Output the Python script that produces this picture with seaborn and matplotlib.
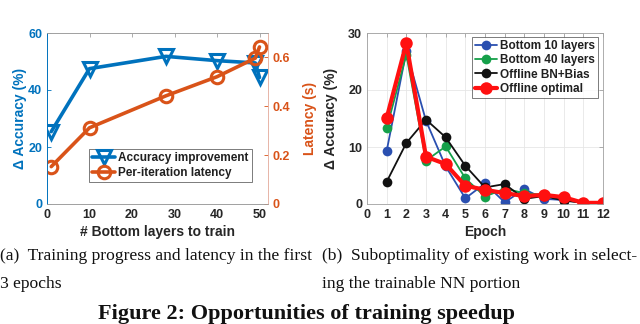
import matplotlib
matplotlib.use("Agg")
import matplotlib.pyplot as plt
import seaborn as sns
import pandas as pd

# ---- data (left panel) ----
layers = [1, 10, 28, 40, 49, 50]
acc_improve = [25.4, 47.5, 51.8, 50.3, 49.5, 44.4]
latency = [0.153, 0.312, 0.443, 0.521, 0.597, 0.643]

# ---- data (right panel) ----
epochs = [1, 2, 3, 4, 5, 6, 7, 8, 9, 10, 11, 12]
bottom10 = [9.3, 26.8, 14.6, 6.6, 1.0, 3.6, 0.3, 2.6, 0.9, 0.7, 0.2, 0.2]
bottom40 = [13.3, 26.2, 7.6, 10.1, 4.5, 1.3, 2.7, 1.9, 1.6, 0.9, 0.2, 0.2]
offline_bn = [3.9, 10.7, 14.8, 11.7, 6.7, 2.9, 3.5, 0.9, 1.4, 0.6, 0.2, 0.2]
offline_opt = [15.1, 28.2, 8.3, 7.0, 3.2, 2.5, 1.9, 1.4, 1.6, 1.2, 0.2, 0.2]

sns.set_style("white")
plt.rcParams['font.family'] = ['Liberation Sans', 'DejaVu Sans']
plt.rcParams['xtick.direction'] = 'in'
plt.rcParams['ytick.direction'] = 'in'

BLUE = '#0072BD'
ORANGE = '#D95319'
AXC = '#262626'

fig = plt.figure(figsize=(6.4, 3.24), dpi=100)
W, H = 640, 324

def axrect(x0, y0, x1, y1):
    return [x0 / W, 1 - y1 / H, (x1 - x0) / W, (y1 - y0) / H]

# ================= Left panel =================
ax1 = fig.add_axes(axrect(47, 33, 268, 204))
ax2 = ax1.twinx()
sns.lineplot(x=layers, y=acc_improve, ax=ax1, color=BLUE, lw=2.6, marker='v',
             markersize=10, markerfacecolor='none', markeredgecolor=BLUE,
             markeredgewidth=2.2, label='Accuracy improvement', legend=False)
sns.lineplot(x=layers, y=latency, ax=ax2, color=ORANGE, lw=2.6, marker='o',
             markersize=9, markerfacecolor='none', markeredgecolor=ORANGE,
             markeredgewidth=2.2, label='Per-iteration latency', legend=False)
ax1.set_xlim(0, 52)
ax1.set_ylim(0, 60)
ax2.set_ylim(0, 0.7)
ax1.set_xticks([0, 10, 20, 30, 40, 50])
ax1.set_yticks([0, 20, 40, 60])
ax2.set_yticks([0, 0.2, 0.4, 0.6])
ax2.set_yticklabels(['0', '0.2', '0.4', '0.6'])
for a in (ax1, ax2):
    for s in a.spines.values():
        s.set_linewidth(0.6)
        s.set_color('#a0a0a0')
ax2.spines['left'].set_color(BLUE)
ax2.spines['right'].set_color('#f2b8a8')
ax1.spines['left'].set_color(BLUE)
ax1.tick_params(axis='y', colors=BLUE, labelsize=9, length=3, width=0.6)
ax1.tick_params(axis='x', colors='#a0a0a0', labelcolor=AXC, labelsize=9, length=3,
                width=0.6, top=True)
ax2.tick_params(axis='y', colors=ORANGE, labelsize=9, length=3, width=0.6)
for lab in ax1.get_xticklabels() + ax1.get_yticklabels() + ax2.get_yticklabels():
    lab.set_fontweight('bold')
ax1.set_xlabel('# Bottom layers to train', fontsize=10, fontweight='bold', color=AXC, labelpad=3)
ax1.set_ylabel('Δ Accuracy (%)', fontsize=10, fontweight='bold', color=BLUE, labelpad=1)
ax2.set_ylabel('Latency (s)', fontsize=10, fontweight='bold', color=ORANGE, labelpad=9)
h1, l1 = ax1.get_legend_handles_labels()
h2, l2 = ax2.get_legend_handles_labels()
leg = ax2.legend(h1 + h2, l1 + l2, loc='center', bbox_to_anchor=(0.559, 0.225),
                 fontsize=8.5, frameon=True, fancybox=False, handlelength=1.9,
                 borderpad=0.25, labelspacing=0.2, handletextpad=0.3, borderaxespad=0)
leg.get_frame().set_edgecolor('#404040')
leg.get_frame().set_linewidth(0.6)
for t in leg.get_texts():
    t.set_fontweight('bold')
    t.set_color('#202020')

# ================= Right panel =================
ax3 = fig.add_axes(axrect(367, 33, 603, 204))
df = pd.DataFrame({
    'Epoch': epochs * 4,
    'val': bottom10 + bottom40 + offline_bn + offline_opt,
    'series': (['Bottom 10 layers'] * 12 + ['Bottom 40 layers'] * 12 +
               ['Offline BN+Bias'] * 12 + ['Offline optimal'] * 12),
})
styles = {
    'Bottom 10 layers': dict(color='#2a4fb0', lw=1.3, ms=7),
    'Bottom 40 layers': dict(color='#15a04a', lw=1.3, ms=7),
    'Offline BN+Bias': dict(color='#111111', lw=1.3, ms=7),
    'Offline optimal': dict(color='#ff1010', lw=3.0, ms=9),
}
for name, st in styles.items():
    sub = df[df['series'] == name]
    sns.lineplot(data=sub, x='Epoch', y='val', ax=ax3, color=st['color'], lw=st['lw'],
                 marker='o', markersize=st['ms'], markeredgewidth=0,
                 markerfacecolor=st['color'], label=name, legend=False)
ax3.set_xlim(0, 12)
ax3.set_ylim(0, 30)
ax3.set_xticks(range(0, 13))
ax3.set_yticks([0, 10, 20, 30])
ax3.grid(True, color='#e6e6e6', lw=0.6)
for s in ax3.spines.values():
    s.set_linewidth(0.6)
    s.set_color('#a0a0a0')
ax3.tick_params(colors='#a0a0a0', labelcolor=AXC, labelsize=9, length=3, width=0.6,
                top=True, right=True)
for lab in ax3.get_xticklabels() + ax3.get_yticklabels():
    lab.set_fontweight('bold')
ax3.set_xlabel('Epoch', fontsize=10, fontweight='bold', color=AXC, labelpad=3)
ax3.set_ylabel('Δ Accuracy (%)', fontsize=10, fontweight='bold', color=AXC, labelpad=7)
leg3 = ax3.legend(loc='upper right', bbox_to_anchor=(0.979, 0.977), fontsize=8.5,
                  frameon=True, fancybox=False, handlelength=1.8, borderpad=0.25,
                  labelspacing=0.2, handletextpad=0.3, borderaxespad=0)
leg3.get_frame().set_edgecolor('#404040')
leg3.get_frame().set_linewidth(0.6)
for t in leg3.get_texts():
    t.set_fontweight('bold')
    t.set_color('#202020')

# ================= Captions =================
serif = ['Liberation Serif', 'DejaVu Serif']
CFS = 12.6
fig.text(0 / W, 1 - 256 / H, '(a)  Training progress and latency in the first',
         family=serif, fontsize=CFS, va='center', ha='left', color='#111111')
fig.text(0 / W, 1 - 284 / H, '3 epochs', family=serif, fontsize=CFS, va='center',
         ha='left', color='#111111')
fig.text(322 / W, 1 - 256 / H, '(b)  Suboptimality of existing work in select-',
         family=serif, fontsize=CFS, va='center', ha='left', color='#111111')
fig.text(322 / W, 1 - 284 / H, 'ing the trainable NN portion', family=serif,
         fontsize=CFS, va='center', ha='left', color='#111111')
fig.text(307 / W, 1 - 319 / H, 'Figure 2: Opportunities of training speedup',
         family=serif, fontsize=16, fontweight='bold', va='baseline', ha='center',
         color='#111111')

fig.savefig('out.png', dpi=100)
